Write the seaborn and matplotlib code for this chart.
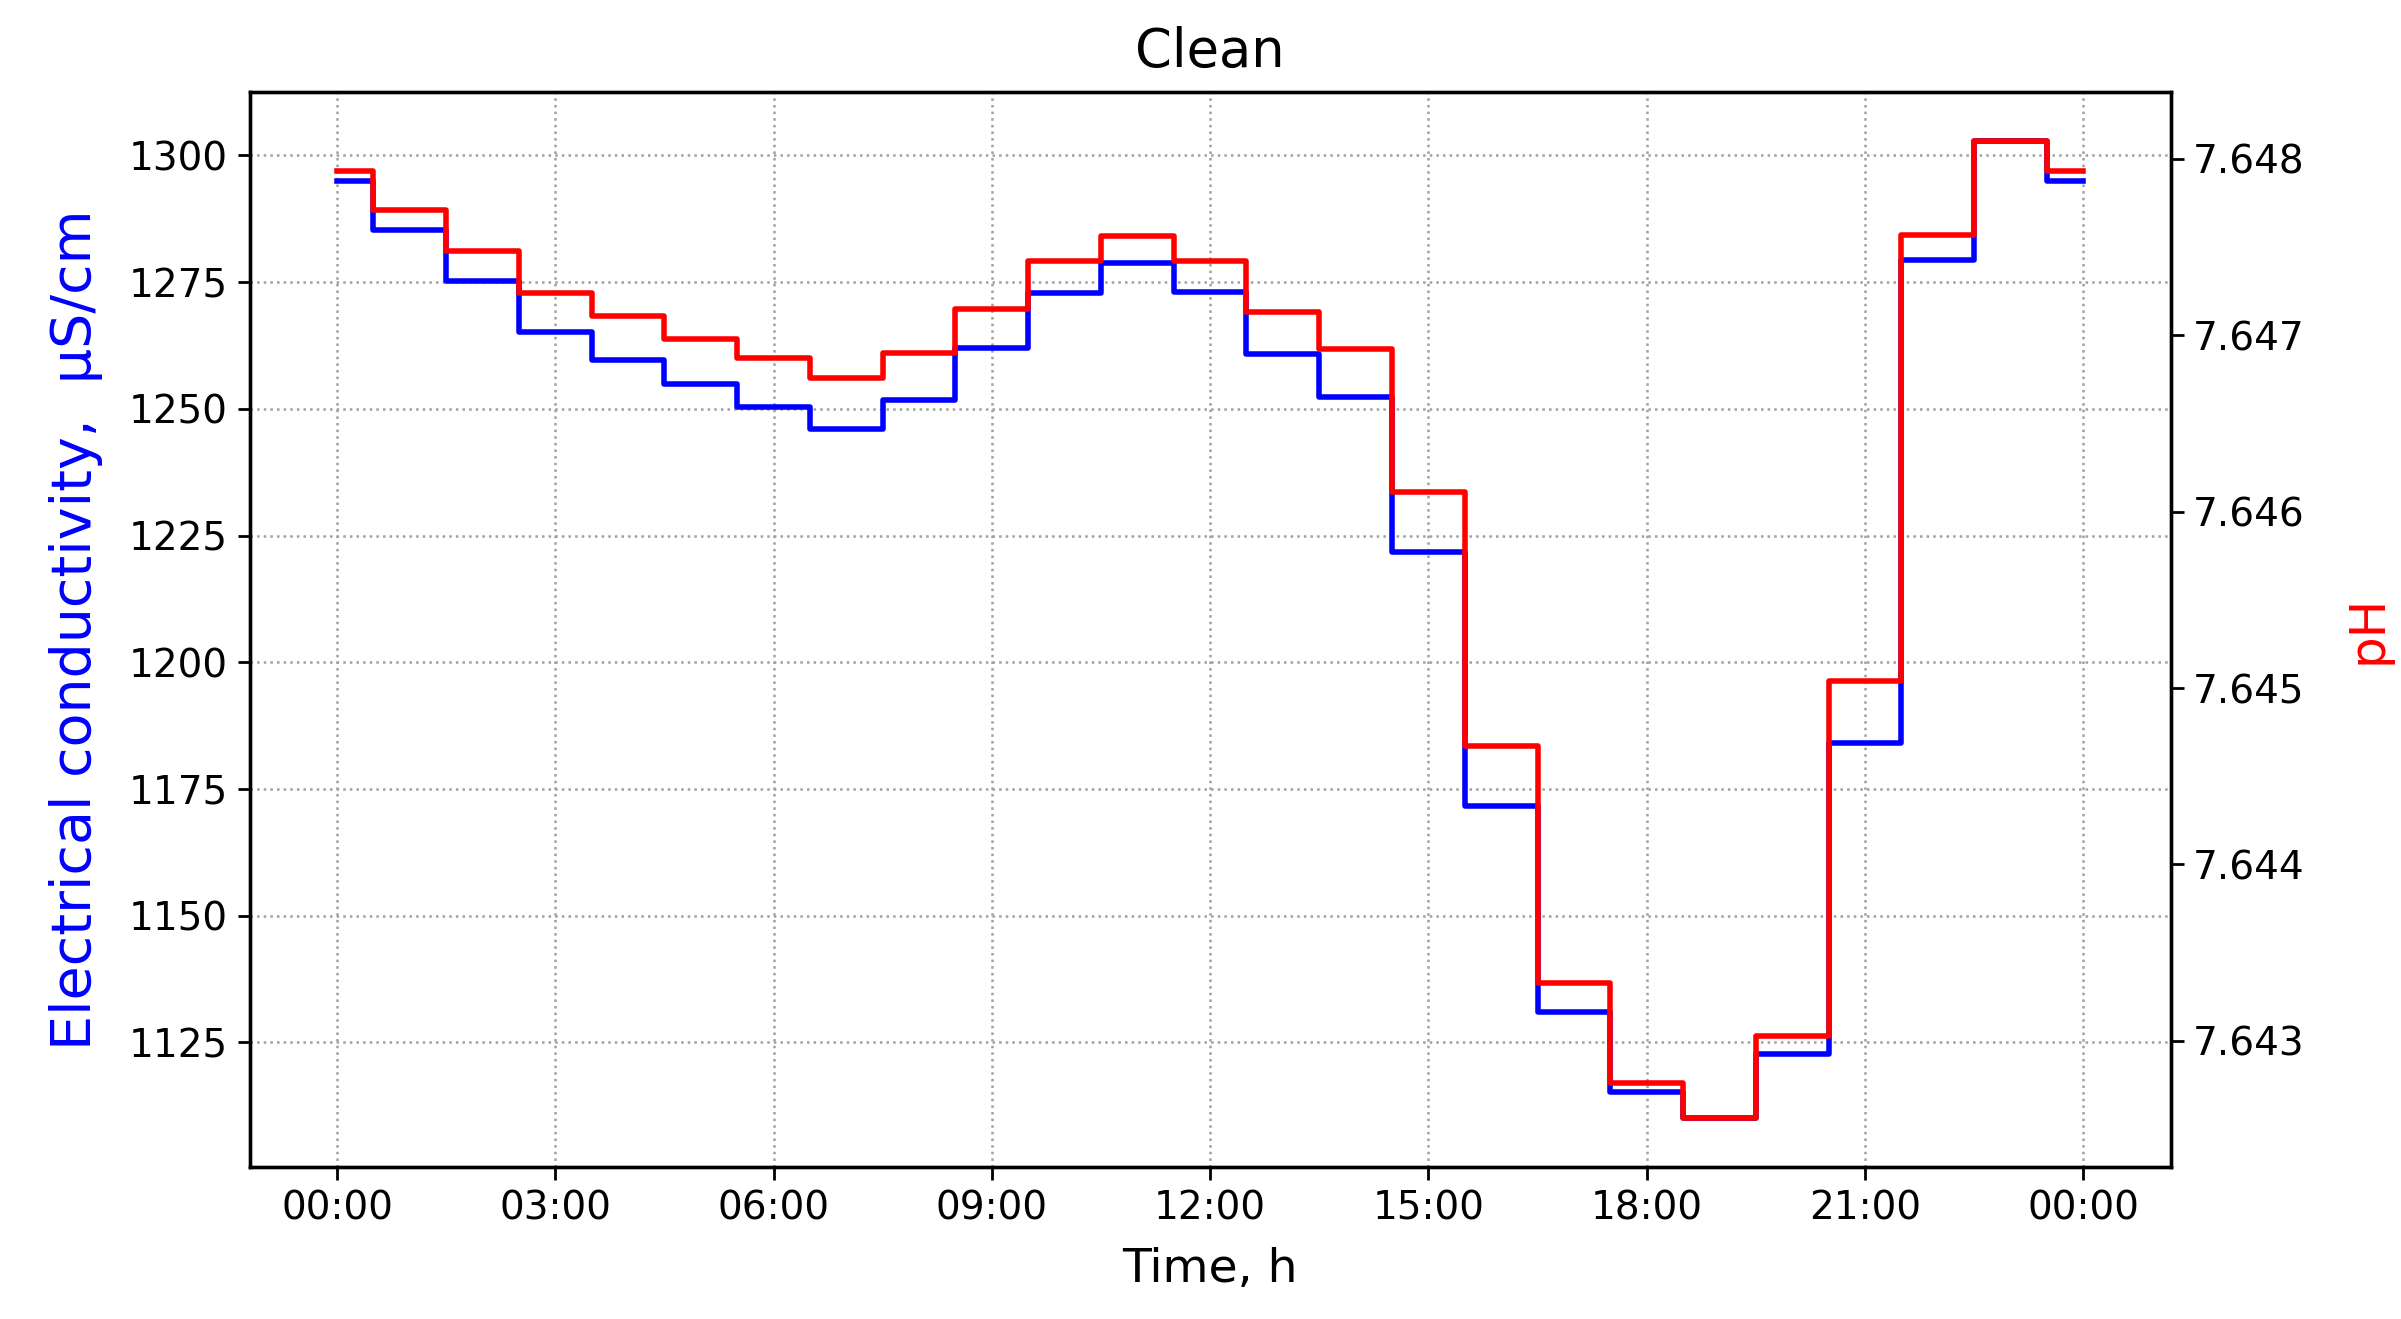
import numpy as np
import pandas as pd
import seaborn as sns
import matplotlib.pyplot as plt
from matplotlib.ticker import MultipleLocator

# hourly levels (hour 0 .. 24)
hours = list(range(25))
conductivity = [1295.0, 1285.2, 1275.3, 1265.1, 1259.7, 1254.8, 1250.3, 1246.0,
                1251.7, 1262.0, 1272.8, 1278.7, 1273.0, 1260.8, 1252.3, 1221.8,
                1171.7, 1131.0, 1115.2, 1110.0, 1122.7, 1184.1, 1279.3, 1302.8,
                1295.0]
ph = [7.64793, 7.64771, 7.64748, 7.64724, 7.64711, 7.64698, 7.64687, 7.64676,
      7.64690, 7.64715, 7.64742, 7.64756, 7.64742, 7.64713, 7.64692, 7.64611,
      7.64467, 7.64333, 7.64276, 7.64256, 7.64303, 7.64504, 7.64757, 7.64810,
      7.64793]
xticks = [0, 3, 6, 9, 12, 15, 18, 21, 24]
xticklabels = ['00:00', '03:00', '06:00', '09:00', '12:00', '15:00', '18:00', '21:00', '00:00']

df = pd.DataFrame({'hour': hours, 'ec': conductivity, 'ph': ph})

fig = plt.figure(figsize=(12.005, 6.595), dpi=200)
ax = fig.add_axes([0.104, 0.115, 0.800, 0.815])
ax2 = ax.twinx()

sns.lineplot(data=df, x='hour', y='ec', ax=ax, color='blue', lw=2.0, drawstyle='steps-mid')
sns.lineplot(data=df, x='hour', y='ph', ax=ax2, color='red', lw=2.0, drawstyle='steps-mid')

ax.set_xticks(xticks)
ax.set_xticklabels(xticklabels)
ax.yaxis.set_major_locator(MultipleLocator(25))
ax2.yaxis.set_major_locator(MultipleLocator(0.001))
ax2.ticklabel_format(axis='y', useOffset=False)

ax.grid(True, linestyle=':', color='#a0a0a0', lw=0.9)
ax.set_axisbelow(True)

for a in (ax, ax2):
    a.tick_params(labelsize=14, length=4.5, width=1.0)
    for s in a.spines.values():
        s.set_linewidth(1.2)
        s.set_color('black')

ax.set_xlabel('Time, h', fontsize=17, labelpad=7)
ax.set_ylabel('Electrical conductivity,  µS/cm', fontsize=20, color='blue', labelpad=9)
ax2.set_ylabel('pH', fontsize=18, color='red', labelpad=14)
ax.set_title('Clean', fontsize=19, pad=9)

fig.savefig('out.png', dpi=200)
